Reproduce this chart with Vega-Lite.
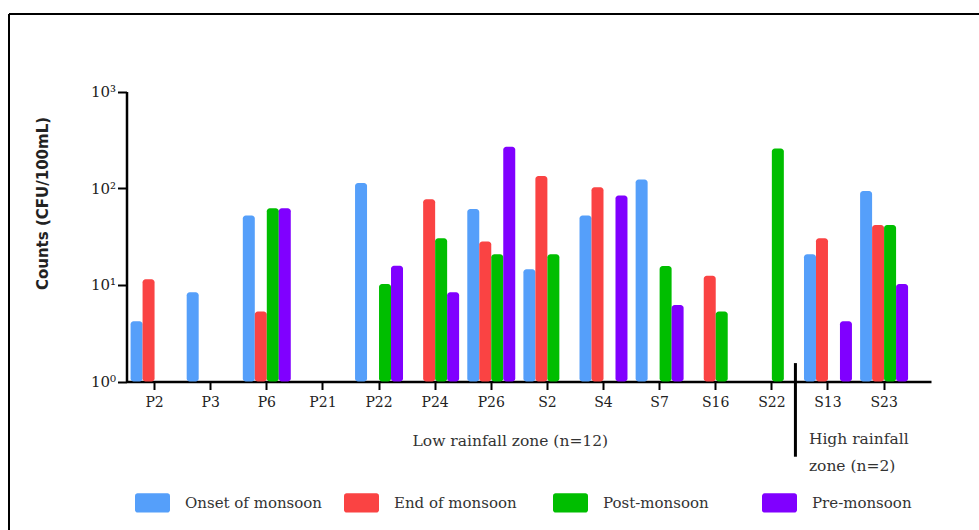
{
  "$schema": "https://vega.github.io/schema/vega-lite/v6.json",
  "width": 970,
  "height": 516,
  "autosize": {"type": "none"},
  "padding": {"left": 9, "top": 14, "right": 0, "bottom": 0},
  "background": "white",
  "view": {"stroke": "black", "strokeWidth": 2, "strokeDash": [970, 1486, 516, 0], "fill": null},
  "config": {
    "axis": {"grid": false, "domainColor": "black", "tickColor": "black", "labelColor": "#222", "titleColor": "#222"},
    "legend": {
      "orient": "none", "legendX": 126, "legendY": 471, "direction": "horizontal", "gridAlign": "all",
      "title": null, "labelFont": "DejaVu Serif", "labelFontSize": 15, "labelColor": "#333",
      "labelOffset": 15, "columnPadding": 21,
      "symbolType": "M-0.85,-0.55H0.85A0.15,0.15 0 0 1 1,-0.4V0.4A0.15,0.15 0 0 1 0.85,0.55H-0.85A0.15,0.15 0 0 1 -1,0.4V-0.4A0.15,0.15 0 0 1 -0.85,-0.55Z",
      "symbolSize": 1225, "symbolStrokeWidth": 0, "symbolOpacity": 1
    }
  },
  "layer": [
    {
      "data": {"values": [
        {"site": "P2", "season": "Onset of monsoon", "value": 4.2},
        {"site": "P2", "season": "End of monsoon", "value": 11.4},
        {"site": "P3", "season": "Onset of monsoon", "value": 8.4},
        {"site": "P6", "season": "Onset of monsoon", "value": 52},
        {"site": "P6", "season": "End of monsoon", "value": 5.3},
        {"site": "P6", "season": "Post-monsoon", "value": 62},
        {"site": "P6", "season": "Pre-monsoon", "value": 62},
        {"site": "P22", "season": "Onset of monsoon", "value": 113},
        {"site": "P22", "season": "Post-monsoon", "value": 10.2},
        {"site": "P22", "season": "Pre-monsoon", "value": 15.8},
        {"site": "P24", "season": "End of monsoon", "value": 77},
        {"site": "P24", "season": "Post-monsoon", "value": 30.3},
        {"site": "P24", "season": "Pre-monsoon", "value": 8.4},
        {"site": "P26", "season": "Onset of monsoon", "value": 61},
        {"site": "P26", "season": "End of monsoon", "value": 28},
        {"site": "P26", "season": "Post-monsoon", "value": 20.7},
        {"site": "P26", "season": "Pre-monsoon", "value": 268},
        {"site": "S2", "season": "Onset of monsoon", "value": 14.5},
        {"site": "S2", "season": "End of monsoon", "value": 134},
        {"site": "S2", "season": "Post-monsoon", "value": 20.7},
        {"site": "S4", "season": "Onset of monsoon", "value": 52},
        {"site": "S4", "season": "End of monsoon", "value": 102},
        {"site": "S4", "season": "Pre-monsoon", "value": 84},
        {"site": "S7", "season": "Onset of monsoon", "value": 123},
        {"site": "S7", "season": "Post-monsoon", "value": 15.7},
        {"site": "S7", "season": "Pre-monsoon", "value": 6.2},
        {"site": "S16", "season": "End of monsoon", "value": 12.4},
        {"site": "S16", "season": "Post-monsoon", "value": 5.3},
        {"site": "S22", "season": "Post-monsoon", "value": 258},
        {"site": "S13", "season": "Onset of monsoon", "value": 20.7},
        {"site": "S13", "season": "End of monsoon", "value": 30.3},
        {"site": "S13", "season": "Pre-monsoon", "value": 4.2},
        {"site": "S23", "season": "Onset of monsoon", "value": 93.5},
        {"site": "S23", "season": "End of monsoon", "value": 41.6},
        {"site": "S23", "season": "Post-monsoon", "value": 41.6},
        {"site": "S23", "season": "Pre-monsoon", "value": 10.2}
      ]},
      "mark": {"type": "bar", "cornerRadiusEnd": 3},
      "encoding": {
        "x": {
          "field": "site", "type": "nominal",
          "scale": {"domain": ["P2","P3","P6","P21","P22","P24","P26","S2","S4","S7","S16","S22","S13","S23"], "range": [117.5, 922], "paddingInner": 0, "paddingOuter": 0.168, "align": 0},
          "axis": {"title": null, "orient": "bottom", "offset": -148.5, "labelAngle": 0, "labelFont": "DejaVu Serif", "labelFontSize": 14, "tickSize": 8, "tickWidth": 2, "domainWidth": 2.5, "labelPadding": 6}
        },
        "xOffset": {
          "field": "season", "type": "nominal",
          "scale": {"domain": ["Onset of monsoon","End of monsoon","Post-monsoon","Pre-monsoon"], "paddingInner": 0, "paddingOuter": 0.34}
        },
        "y": {
          "field": "value", "type": "quantitative",
          "scale": {"type": "log", "domain": [1, 1000], "range": [367.5, 77.5], "nice": false},
          "axis": {
            "title": "Counts (CFU/100mL)", "offset": -117.5, "values": [1, 10, 100, 1000],
            "labelExpr": "datum.value == 1 ? '10⁰' : datum.value == 10 ? '10¹' : datum.value == 100 ? '10²' : '10³'",
            "labelFont": "DejaVu Serif", "labelFontSize": 15, "tickSize": 9, "tickWidth": 2, "domainWidth": 2.5, "labelPadding": 2,
            "titleFont": "DejaVu Sans", "titleFontSize": 15, "titleFontWeight": "bold", "titleX": -76, "titleY": 189
          }
        },
        "y2": {"datum": 1},
        "color": {
          "field": "season", "type": "nominal",
          "scale": {"domain": ["Onset of monsoon","End of monsoon","Post-monsoon","Pre-monsoon"], "range": ["#559FFA","#FA4343","#00BE00","#8000FF"]}
        }
      }
    },
    {
      "data": {"values": [{"label": "separator"}]},
      "mark": {"type": "rule", "strokeWidth": 3, "color": "black"},
      "encoding": {
        "x": {"datum": "S22", "bandPosition": 0.92},
        "y": {"datum": 1.55},
        "y2": {"datum": 0.1667}
      }
    },
    {
      "data": {"values": [{"label": "Low rainfall zone (n=12)"}]},
      "mark": {"type": "text", "font": "DejaVu Serif", "fontSize": 15.5, "color": "#333", "align": "center", "baseline": "middle"},
      "encoding": {
        "x": {"datum": "P26", "bandPosition": 0.84},
        "y": {"datum": 0.2425},
        "text": {"field": "label"}
      }
    },
    {
      "data": {"values": [{"label": "High rainfall"}]},
      "mark": {"type": "text", "font": "DejaVu Serif", "fontSize": 15.5, "color": "#333", "align": "left", "baseline": "middle"},
      "encoding": {
        "x": {"datum": "S13", "bandPosition": 0.16},
        "y": {"datum": 0.254},
        "text": {"field": "label"}
      }
    },
    {
      "data": {"values": [{"label": "zone (n=2)"}]},
      "mark": {"type": "text", "font": "DejaVu Serif", "fontSize": 15.5, "color": "#333", "align": "left", "baseline": "middle"},
      "encoding": {
        "x": {"datum": "S13", "bandPosition": 0.16},
        "y": {"datum": 0.1336},
        "text": {"field": "label"}
      }
    }
  ]
}
